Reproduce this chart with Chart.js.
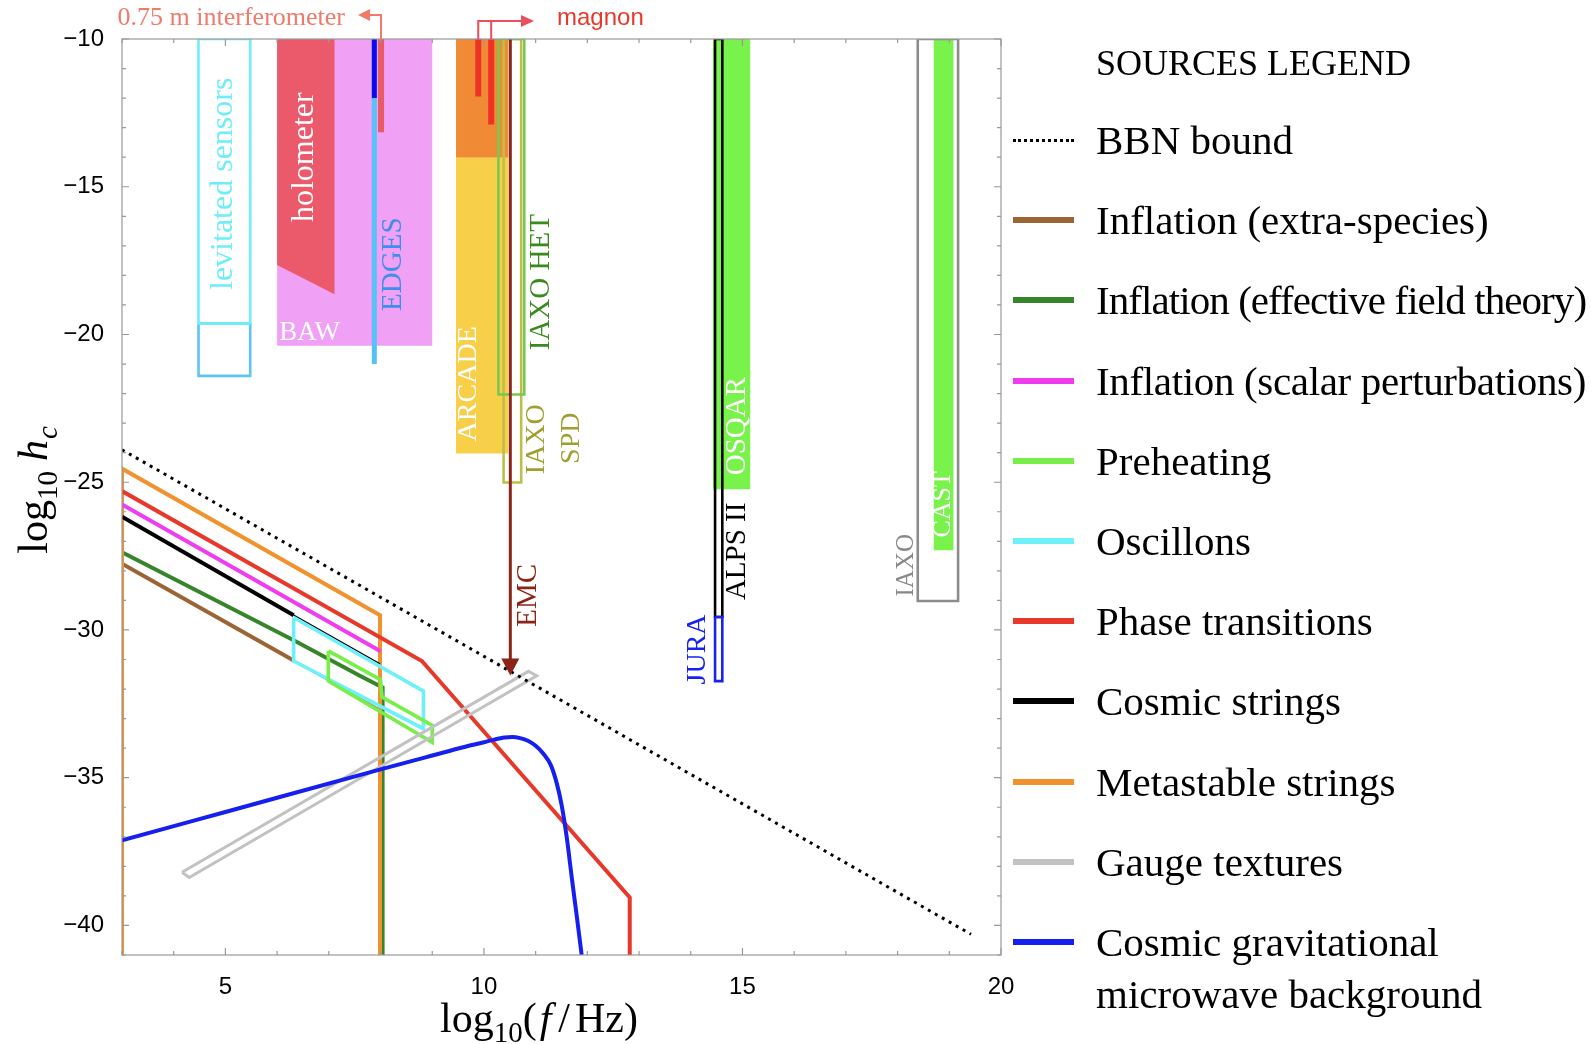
<!DOCTYPE html>
<html>
<head>
<meta charset="utf-8">
<script src="https://cdn.jsdelivr.net/npm/chart.js@4.4.0/dist/chart.umd.min.js"></script>
<style>
  html, body { margin: 0; padding: 0; background: #fff; }
  #wrap { position: relative; width: 1591px; height: 1044px; overflow: hidden; }
  #legend .head { position: absolute; left: 1096px; top: 38px; font: 36px 'Liberation Serif', serif; line-height: 50px; }
  #legend .item { position: absolute; left: 1096px; font: 41px 'Liberation Serif', serif; line-height: 52px; white-space: pre; color: #000; }
  #legend .mark { position: absolute; left: 1013px; width: 61px; height: 6px; }
  #legend .dots { height: 0; border-top: 3px dotted #000; }
</style>
</head>
<body>
<div id="wrap">
  <canvas id="c" width="1591" height="1044"></canvas>
  <div id="legend"></div>
</div>
<script>
// axis ticks
const xTicks = [5, 10, 15, 20];
const yTicks = [-40, -35, -30, -25, -20, -15, -10];

// sources: x = log10(f/Hz), y = log10 hc
const bbnX = [3, 19.42];
const bbnY = [-23.9, -40.3];
const extraX = [3, 6.32];
const extraY = [-27.76, -31.03];
const extraTailX = [6.32, 8.04, 8.04];
const extraTailY = [-31.03, -32.75, -41];
const eftX = [3, 6.32, 7.6, 8.04, 8.04];
const eftY = [-27.37, -30.35, -31.55, -31.95, -41];
const scalarX = [3, 8.0];
const scalarY = [-25.75, -30.72];
const preheatX = [6.99, 8.0, 8.03, 9.0, 9.0, 6.99, 6.99];
const preheatY = [-30.71, -31.68, -32.27, -33.23, -33.8, -31.73, -30.71];
const oscX = [6.32, 8.83, 8.83, 6.32, 6.32];
const oscY = [-29.58, -32.07, -33.34, -31.05, -29.58];
const phaseX = [3, 8.8, 12.82, 12.82];
const phaseY = [-25.3, -31.05, -39.05, -41];
const stringsX = [3, 6.32];
const stringsY = [-26.17, -29.5];
const stringsTailX = [6.32, 7.99];
const stringsTailY = [-29.5, -31.15];
const metaX = [3, 3, 7.99, 7.99];
const metaY = [-41, -24.54, -29.5, -41];
const gaugeX = [4.16, 10.86, 11.02, 4.3, 4.16];
const gaugeY = [-38.2, -31.4, -31.55, -38.38, -38.2];
const cgmbX = [3, 5, 8, 9, 9.6, 10.0, 10.2, 10.4, 10.55, 10.7, 10.85, 11.0, 11.15, 11.3, 11.41, 11.5, 11.6, 11.7, 11.8, 11.89];
const cgmbY = [-37.12, -36.16, -34.72, -34.25, -33.97, -33.8, -33.71, -33.64, -33.62, -33.66, -33.75, -33.92, -34.19, -34.6, -35.2, -35.9, -37.0, -38.4, -39.75, -41.0];

// detectors: rectangles (x from, x to, top, bottom)
const rectNames  = ['BAW', 'levitated sensors (low)', 'levitated sensors', 'ARCADE (high)', 'ARCADE', 'IAXO SPD', 'IAXO HET', 'OSQAR', 'ALPS II', 'JURA', 'CAST', 'IAXO'];
const rectX0     = [6.0, 4.48, 4.48, 9.46, 9.46, 10.38, 10.28, 14.43, 14.47, 14.47, 18.7, 18.39];
const rectX1     = [9.0, 5.48, 5.48, 10.47, 10.47, 10.72, 10.78, 15.15, 14.61, 14.61, 19.08, 19.17];
const rectTop    = [-10, -19.63, -10, -10, -14.02, -10, -10, -10, -10, -29.56, -10, -10];
const rectBottom = [-20.38, -21.4, -19.63, -14.02, -24.03, -25.01, -22.03, -25.24, -29.56, -31.73, -27.3, -29.02];
const holoX = [6.0, 7.11, 7.11, 6.0, 6.0];
const holoY = [-10, -10, -18.64, -17.65, -10];
// detectors: narrow bars (x, top, bottom)
const barNames  = ['EDGES', 'EDGES (high)', '0.75 m interferometer', 'magnon a', 'magnon b', 'EMC'];
const barX      = [7.88, 7.88, 8.01, 9.89, 10.14, 10.51];
const barTop    = [-10, -10, -10, -10, -10, -10];
const barBottom = [-21.0, -12.0, -13.16, -11.95, -12.89, -31.3];
const emcTip = -31.54;

const legendNames = ['BBN bound', 'Inflation (extra-species)', 'Inflation (effective field theory)',
  'Inflation (scalar perturbations)', 'Preheating', 'Oscillons', 'Phase transitions', 'Cosmic strings',
  'Metastable strings', 'Gauge textures', 'Cosmic gravitational\nmicrowave background'];
const legendColors = ['#000', '#9a6434', '#37852b', '#ee3cee', '#78ee48', '#6ef0f8', '#e8382a', '#000',
  '#f0922e', '#c2c2c2', '#1520ee'];

const rectStyle = [
  { fill: '#f0a0f5' }, { line: '#5ec4f5' }, { line: '#6ef0fa' }, { fill: '#f08a35' }, { fill: '#f7cf48' },
  { line: '#bebe4a' }, { line: '#78c850' }, { fill: '#7af24c' }, { line: '#000' }, { line: '#1a22ee' },
  { fill: '#7af24c' }, { line: '#8c8c8c' }
];
const barStyle = [
  { c: '#55c2f8', w: 5 }, { c: '#0a0aee', w: 5 }, { c: '#e85a64', w: 6 }, { c: '#ee3326', w: 6 },
  { c: '#ee3326', w: 6 }, { c: '#8b2518', w: 3 }
];

const pts = (xs, ys) => xs.map((x, i) => ({ x, y: ys[i] }));
const datasets = [];
function add(xs, ys, o) {
  datasets.push(Object.assign({
    data: pts(xs, ys), showLine: true, pointRadius: 0, borderWidth: 4, tension: 0,
    fill: false, borderColor: '#000', backgroundColor: 'transparent'
  }, o));
}
function addRect(i) {
  const a = rectX0[i], b = rectX1[i], t = rectTop[i], u = rectBottom[i];
  const st = rectStyle[i];
  if (st.fill) add([a, b, b, a, a], [t, t, u, u, t], { fill: 'shape', backgroundColor: st.fill, borderColor: st.fill, borderWidth: 0 });
  else add([a, b, b, a, a], [t, t, u, u, t], { borderColor: st.line, borderWidth: 2.6 });
}
function addBar(i) {
  add([barX[i], barX[i]], [barTop[i], barBottom[i]], { borderColor: barStyle[i].c, borderWidth: barStyle[i].w });
}

// detectors, bottom layer first
addRect(0);
add(holoX, holoY, { fill: 'shape', backgroundColor: '#eb5a6b', borderColor: '#eb5a6b', borderWidth: 0 });
addRect(1); addRect(2);
addBar(0); addBar(1); addBar(2);
addRect(3); addRect(4);
addBar(3); addBar(4);
addRect(5); addRect(6);
addBar(5);
addRect(7); addRect(8); addRect(9);
addRect(10); addRect(11);

// sources
add(extraX, extraY, { borderColor: legendColors[1] });
add(extraTailX, extraTailY, { borderColor: legendColors[1], borderWidth: 1.8 });
add(eftX, eftY, { borderColor: legendColors[2] });
add(metaX, metaY, { borderColor: legendColors[8] });
add(stringsX, stringsY, { borderColor: legendColors[7] });
add(stringsTailX, stringsTailY, { borderColor: legendColors[7], borderWidth: 1.4 });
add(scalarX, scalarY, { borderColor: legendColors[3] });
add(phaseX, phaseY, { borderColor: legendColors[6] });
add(oscX, oscY, { borderColor: legendColors[5], borderWidth: 3.6 });
add(preheatX, preheatY, { borderColor: legendColors[4], borderWidth: 3.6 });
add(gaugeX, gaugeY, { borderColor: legendColors[9], borderWidth: 3 });
add(cgmbX, cgmbY, { borderColor: legendColors[10], cubicInterpolationMode: 'monotone' });
add(bbnX, bbnY, { borderColor: '#000', borderWidth: 3, borderDash: [3, 5] });

// first dataset drawn first (underneath)
datasets.forEach((d, i) => { d.order = datasets.length - i; });

const tags = [
  { t: 'levitated sensors', x: 4.97, y: -14.9, c: '#6eeef8', s: 32 },
  { t: 'holometer', x: 6.53, y: -14.0, c: '#fff', s: 32 },
  { t: 'BAW', x: 6.04, y: -19.95, c: '#fff', s: 27, flat: true },
  { t: 'EDGES', x: 8.24, y: -17.62, c: '#3d8fea', s: 29 },
  { t: 'ARCADE', x: 9.71, y: -21.67, c: '#fff', s: 28 },
  { t: 'IAXO HET', x: 11.11, y: -18.23, c: '#3a8a1e', s: 29 },
  { t: 'IAXO', x: 11.01, y: -23.55, c: '#a0a030', s: 28 },
  { t: 'SPD', x: 11.69, y: -23.51, c: '#a0a030', s: 28 },
  { t: 'EMC', x: 10.85, y: -28.83, c: '#8b2518', s: 29 },
  { t: 'OSQAR', x: 14.91, y: -23.1, c: '#fff', s: 29 },
  { t: 'ALPS II', x: 14.91, y: -27.34, c: '#000', s: 29 },
  { t: 'JURA', x: 14.14, y: -30.66, c: '#1a22ee', s: 28 },
  { t: 'CAST', x: 18.89, y: -25.75, c: '#fff', s: 26 },
  { t: 'IAXO', x: 18.17, y: -27.81, c: '#888', s: 25 }
];

function rich(ctx, runs, cx, cy, rot) {
  ctx.save();
  ctx.translate(cx, cy);
  ctx.rotate(rot);
  let w = 0;
  runs.forEach(r => { ctx.font = r.f; r.w = ctx.measureText(r.t).width + (r.gap || 0); w += r.w; });
  let x = -w / 2;
  ctx.textAlign = 'left';
  ctx.textBaseline = 'alphabetic';
  ctx.fillStyle = '#000';
  runs.forEach(r => { ctx.font = r.f; ctx.fillText(r.t, x, r.dy || 0); x += r.w; });
  ctx.restore();
}

const decor = {
  id: 'decor',
  afterDatasetsDraw(chart) {
    const { ctx, chartArea: a, scales: { x: sx, y: sy } } = chart;
    ctx.save();
    // frame and inward ticks
    ctx.strokeStyle = '#999';
    ctx.lineWidth = 1.2;
    ctx.strokeRect(a.left, a.top, a.right - a.left, a.bottom - a.top);
    ctx.beginPath();
    for (let v = 3; v <= 20; v++) {
      const p = sx.getPixelForValue(v), l = v % 5 === 0 ? 7 : 4;
      ctx.moveTo(p, a.bottom); ctx.lineTo(p, a.bottom - l);
      ctx.moveTo(p, a.top); ctx.lineTo(p, a.top + l);
    }
    for (let v = -41; v <= -10; v++) {
      const p = sy.getPixelForValue(v), l = v % 5 === 0 ? 7 : 4;
      ctx.moveTo(a.left, p); ctx.lineTo(a.left + l, p);
      ctx.moveTo(a.right, p); ctx.lineTo(a.right - l, p);
    }
    ctx.stroke();

    // detector names
    tags.forEach(g => {
      ctx.save();
      ctx.fillStyle = g.c;
      ctx.font = g.s + "px 'Liberation Serif', serif";
      ctx.translate(sx.getPixelForValue(g.x), sy.getPixelForValue(g.y));
      ctx.textBaseline = 'middle';
      if (g.flat) { ctx.textAlign = 'left'; }
      else { ctx.rotate(-Math.PI / 2); ctx.textAlign = 'center'; }
      ctx.fillText(g.t, 0, 0);
      ctx.restore();
    });

    // EMC arrow head
    const ex = sx.getPixelForValue(barX[5]), ey = sy.getPixelForValue(emcTip);
    ctx.fillStyle = barStyle[5].c;
    ctx.beginPath();
    ctx.moveTo(ex, ey); ctx.lineTo(ex - 9, ey - 17); ctx.lineTo(ex + 9, ey - 17); ctx.closePath();
    ctx.fill();

    // interferometer pointer (above the frame)
    const ix = sx.getPixelForValue(barX[2]);
    ctx.strokeStyle = '#f07a6a'; ctx.fillStyle = '#f07a6a'; ctx.lineWidth = 2;
    ctx.beginPath();
    ctx.moveTo(ix, a.top); ctx.lineTo(ix, 15); ctx.lineTo(369, 15);
    ctx.stroke();
    ctx.beginPath();
    ctx.moveTo(358, 15); ctx.lineTo(370, 9); ctx.lineTo(370, 21); ctx.closePath(); ctx.fill();
    ctx.font = "26px 'Liberation Serif', serif";
    ctx.textAlign = 'right'; ctx.textBaseline = 'middle';
    ctx.fillText('0.75 m interferometer', 345, 18);

    // magnon pointer
    const m1 = sx.getPixelForValue(barX[3]), m2 = sx.getPixelForValue(barX[4]);
    ctx.strokeStyle = '#e8505a'; ctx.fillStyle = '#e8505a';
    ctx.beginPath();
    ctx.moveTo(m1, a.top); ctx.lineTo(m1, 21); ctx.lineTo(522, 21);
    ctx.moveTo(m2, a.top); ctx.lineTo(m2, 21);
    ctx.stroke();
    ctx.beginPath();
    ctx.moveTo(534, 21); ctx.lineTo(521, 15); ctx.lineTo(521, 27); ctx.closePath(); ctx.fill();
    ctx.fillStyle = '#e8382a';
    ctx.font = "24px 'Liberation Sans', sans-serif";
    ctx.textAlign = 'left';
    ctx.fillText('magnon', 557, 18);

    // axis titles
    const big = "42px 'Liberation Serif', serif", sub = "29px 'Liberation Serif', serif";
    const bigI = "italic 42px 'Liberation Serif', serif", subI = "italic 29px 'Liberation Serif', serif";
    rich(ctx, [
      { t: 'log', f: big }, { t: '10', f: sub, dy: 10 }, { t: '(', f: big, gap: 3 }, { t: 'f', f: bigI, gap: 7 },
      { t: '/', f: big, gap: 5 }, { t: 'Hz)', f: big }
    ], 539, 1032, 0);
    rich(ctx, [
      { t: 'log', f: big }, { t: '10', f: sub, dy: 10, gap: 10 }, { t: 'h', f: bigI, gap: 1 }, { t: 'c', f: subI, dy: 10 }
    ], 47, 490, -Math.PI / 2);
    ctx.restore();
  }
};

new Chart(document.getElementById('c'), {
  type: 'scatter',
  data: { datasets },
  options: {
    responsive: false,
    animation: false,
    events: [],
    layout: { padding: { left: 0, top: 39, right: 590, bottom: 0 } },
    plugins: { legend: { display: false }, tooltip: { enabled: false } },
    scales: {
      x: {
        type: 'linear', min: 3, max: 20,
        grid: { display: false }, border: { display: false },
        afterBuildTicks: s => { s.ticks = xTicks.map(v => ({ value: v })); },
        afterFit: s => { s.height = 89; },
        ticks: { padding: 10, color: '#000', maxRotation: 0, autoSkip: false,
          font: { family: "'Liberation Sans', sans-serif", size: 24 } }
      },
      y: {
        type: 'linear', min: -41, max: -10,
        grid: { display: false }, border: { display: false },
        afterBuildTicks: s => { s.ticks = yTicks.map(v => ({ value: v })); },
        afterFit: s => { s.width = 122; },
        ticks: { padding: 10, color: '#000', autoSkip: false,
          font: { family: "'Liberation Sans', sans-serif", size: 24 },
          callback: v => (v < 0 ? '\u2212' : '') + Math.abs(v) }
      }
    }
  },
  plugins: [decor]
});

// legend
const lg = document.getElementById('legend');
const head = document.createElement('div');
head.className = 'head';
head.textContent = 'SOURCES LEGEND';
lg.appendChild(head);
legendNames.forEach((n, i) => {
  const y = 140 + i * 80.2;
  const mk = document.createElement('div');
  if (i === 0) { mk.className = 'mark dots'; mk.style.top = (y - 1.5) + 'px'; }
  else { mk.className = 'mark'; mk.style.top = (y - 3) + 'px'; mk.style.background = legendColors[i]; }
  lg.appendChild(mk);
  const tx = document.createElement('div');
  tx.className = 'item';
  tx.style.top = (y - 26) + 'px';
  tx.textContent = n;
  lg.appendChild(tx);
  // squeeze the long lines so that they stay inside the page
  const room = 490, w = tx.getBoundingClientRect().width;
  if (w > room) tx.style.letterSpacing = ((room - w) / n.length).toFixed(2) + 'px';
});
</script>
</body>
</html>
